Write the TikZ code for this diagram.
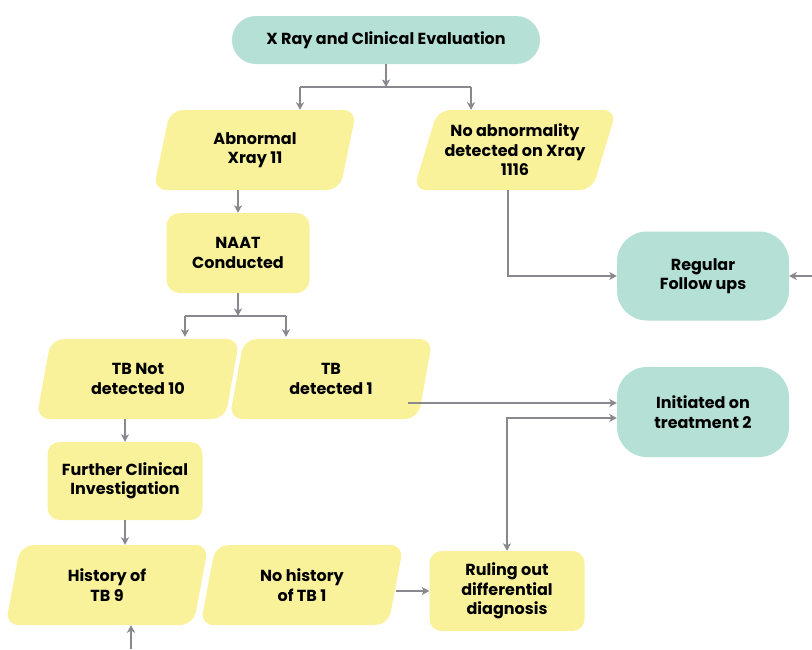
\documentclass[tikz,border=0pt]{standalone}
\usepackage{fontspec}
\setmainfont{Poppins}
\usetikzlibrary{arrows.meta,shapes.geometric,calc}
\definecolor{boxyellow}{HTML}{FAF29B}
\definecolor{boxteal}{HTML}{B4E0D6}
\definecolor{linegray}{HTML}{88888E}
\begin{document}
\begin{tikzpicture}[x=1pt,y=-1pt,
  every node/.style={font=\bfseries\fontsize{16}{19.5}\selectfont, align=center, inner sep=0pt},
  yellowbox/.style={fill=boxyellow, rounded corners=13pt},
  tealbox/.style={fill=boxteal},
  slantbox/.style={trapezium, trapezium left angle=65, trapezium right angle=115,
     trapezium stretches body, minimum width=203pt, minimum height=80pt,
     fill=boxyellow, rounded corners=13pt},
  conn/.style={draw=linegray, line width=1.2pt,
     -{Stealth[length=7.5pt,width=8pt,inset=2pt]}},
  conn2/.style={draw=linegray, line width=1.2pt,
     {Stealth[length=7.5pt,width=8pt,inset=2pt]}-{Stealth[length=7.5pt,width=8pt,inset=2pt]}},
  plainline/.style={draw=linegray, line width=1.2pt}]
\useasboundingbox[fill=white] (0,0) rectangle (812,649);

% boxes
\node[tealbox, rounded corners=24pt, minimum width=308pt, minimum height=48pt] (top) at (386,40) {X Ray and Clinical Evaluation};
\node[slantbox] (abn) at (255,150) {Abnormal\\Xray 11};
\node[slantbox] (noab) at (515,150) {No abnormality\\detected on Xray\\1116};
\node[yellowbox, minimum width=143pt, minimum height=80pt] (naat) at (238,253) {NAAT\\Conducted};
\node[tealbox, rounded corners=30pt, minimum width=172pt, minimum height=89pt] (reg) at (703,276) {Regular\\Follow ups};
\node[slantbox] (tbn) at (138,379) {TB Not\\detected 10};
\node[slantbox] (tbd) at (331,379) {TB\\detected 1};
\node[tealbox, rounded corners=30pt, minimum width=172pt, minimum height=90pt] (init) at (703,412) {Initiated on\\treatment 2};
\node[yellowbox, rounded corners=12pt, minimum width=155pt, minimum height=78pt] (fci) at (125,481) {Further Clinical\\Investigation};
\node[slantbox] (hist) at (107,585) {History of\\TB 9};
\node[slantbox] (nohist) at (302,585) {No history\\of TB 1};
\node[yellowbox, rounded corners=12pt, minimum width=155pt, minimum height=80pt] (rule) at (507,591) {Ruling out\\differential\\diagnosis};

% junction points and free ends
\coordinate (s1) at (386,87);
\coordinate (s1l) at (300,87);
\coordinate (s1r) at (471,87);
\coordinate (s2) at (238,316);
\coordinate (s2l) at (185,316);
\coordinate (s2r) at (286,316);
\coordinate (rin) at (812,276);
\coordinate (tbdout) at (408,403);
\coordinate (hin) at (131,649);

% connectors
\draw[conn] (top.south) -- (s1);
\draw[plainline] (s1l) -- (s1r);
\draw[conn] (s1l) -- (s1l |- abn.north);
\draw[conn] (s1r) -- (s1r |- noab.north);
\draw[conn] (naat.north |- abn.south) -- (naat.north);
\draw[conn] ([xshift=-7pt]noab.south) |- (reg.west);
\draw[conn] (rin) -- (reg.east);
\draw[conn] (naat.south) -- (s2);
\draw[plainline] (s2l) -- (s2r);
\draw[conn] (s2l) -- ([yshift=2pt]s2l |- tbn.north);
\draw[conn] (s2r) -- ([yshift=2pt]s2r |- tbd.north);
\draw[conn] (tbdout) -- (tbdout -| init.west);
\draw[conn2] (rule.north) |- ([yshift=-6pt]init.west);
\draw[conn] (fci.north |- tbn.south) -- (fci.north);
\draw[conn] (fci.south) -- (fci.south |- hist.north);
\draw[conn] (hin) -- (hin |- hist.south);
\draw[conn] (nohist.east |- rule.west) -- (rule.west);
\end{tikzpicture}
\end{document}
